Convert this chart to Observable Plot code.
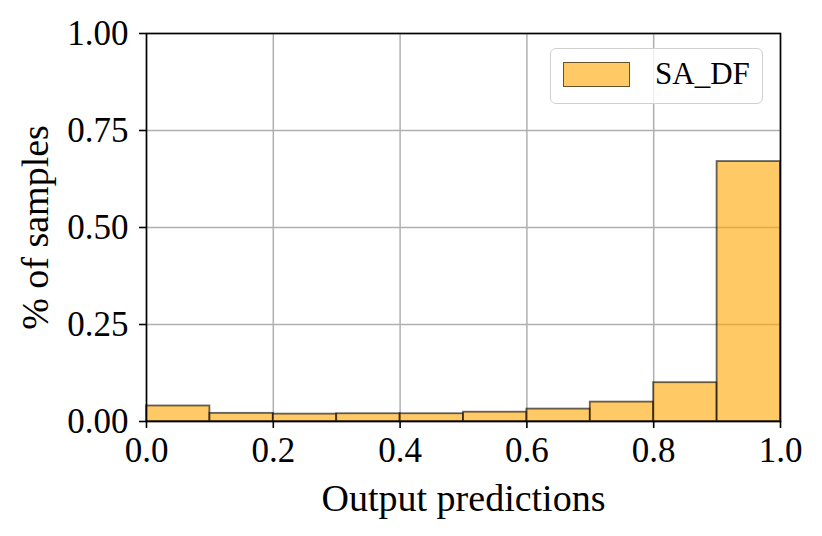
<!DOCTYPE html>
<html>
<head>
<meta charset="utf-8">
<script src="https://cdn.jsdelivr.net/npm/d3@7"></script>
<script src="https://cdn.jsdelivr.net/npm/@observablehq/plot@0.6"></script>
<style>
  html, body { margin: 0; padding: 0; background: #fff; }
  #wrap { position: relative; width: 822px; height: 536px; }
  #legend {
    position: absolute; left: 550px; top: 48px; width: 213px; height: 56px;
    border: 1.5px solid #d0d0d0; border-radius: 6px; background: rgba(255,255,255,0.8);
    box-sizing: border-box; font-family: "Liberation Serif", serif; font-size: 31px;
  }
  #legend .sw {
    position: absolute; left: 12px; top: 12.5px; width: 67px; height: 25px;
    background: rgba(255,165,0,0.6); border: 1.5px solid rgba(0,0,0,0.6); box-sizing: border-box;
  }
  #legend .lb { position: absolute; left: 104px; top: 9px; line-height: 32px; }
</style>
</head>
<body>
<div id="wrap"></div>
<script>
const binEdges = [0.0, 0.1, 0.2, 0.3, 0.4, 0.5, 0.6, 0.7, 0.8, 0.9, 1.0];
const fractions = [0.040, 0.021, 0.019, 0.020, 0.020, 0.024, 0.032, 0.050, 0.100, 0.670];
const xTicks = [0.0, 0.2, 0.4, 0.6, 0.8, 1.0];
const yTicks = [0.00, 0.25, 0.50, 0.75, 1.00];
const seriesName = "SA_DF";

const bins = fractions.map((v, i) => ({x1: binEdges[i], x2: binEdges[i + 1], y: v}));

const serif = "'Liberation Serif', serif";

const chart = Plot.plot({
  width: 822,
  height: 536,
  marginLeft: 146,
  marginRight: 42,
  marginTop: 33,
  marginBottom: 115,
  style: {fontFamily: serif, fontSize: "35px", background: "#fff", color: "#000"},
  x: {domain: [0, 1]},
  y: {domain: [0, 1]},
  marks: [
    Plot.gridX(xTicks, {stroke: "#b0b0b0", strokeOpacity: 1, strokeWidth: 1.5}),
    Plot.gridY(yTicks, {stroke: "#b0b0b0", strokeOpacity: 1, strokeWidth: 1.5}),
    Plot.rectY(bins, {x1: "x1", x2: "x2", y: "y", fill: "orange", fillOpacity: 0.6,
      stroke: "black", strokeOpacity: 0.6, strokeWidth: 1.8}),
    Plot.frame({stroke: "black", strokeWidth: 1.6}),
    Plot.axisX({ticks: xTicks, tickFormat: d3.format(".1f"), tickSize: 7, tickPadding: 9,
      strokeWidth: 1.6, fontSize: 35, label: null}),
    Plot.axisY({ticks: yTicks, tickFormat: d3.format(".2f"), tickSize: 7, tickPadding: 11,
      strokeWidth: 1.6, fontSize: 35, label: null}),
    Plot.axisX({ticks: [], tickSize: 0, label: "Output predictions", labelAnchor: "center",
      labelOffset: 89, labelArrow: "none", fontSize: 38}),
    Plot.axisY({ticks: [], tickSize: 0, label: "% of samples", labelAnchor: "center",
      labelOffset: 125, labelArrow: "none", fontSize: 38})
  ]
});

const wrap = document.getElementById("wrap");
wrap.appendChild(chart);
const lg = document.createElement("div");
lg.id = "legend";
lg.innerHTML = `<div class="sw"></div><div class="lb">${seriesName}</div>`;
wrap.appendChild(lg);
</script>
</body>
</html>
